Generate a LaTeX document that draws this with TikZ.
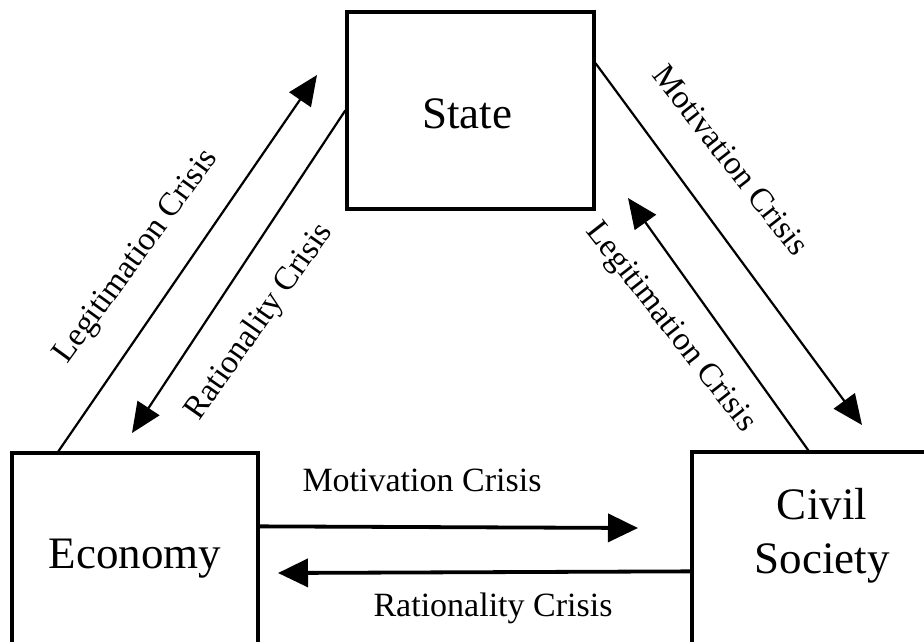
\documentclass[tikz,border=0pt]{standalone}
\usepackage{fontspec}
\setmainfont{Liberation Serif}
\usetikzlibrary{arrows.meta,positioning}
\begin{document}
\begin{tikzpicture}[x=1pt,y=-1pt,
  box/.style={draw,line width=3.3pt,inner sep=0pt},
  big/.style={font=\fontsize{45}{54}\selectfont,inner sep=0pt},
  lbl/.style={font=\fontsize{34}{40}\selectfont,inner sep=0pt},
  dlbl/.style={font=\fontsize{33}{40}\selectfont,inner sep=0pt},
  diag/.style={line width=2.2pt,-{Triangle[length=30pt,width=26pt]}},
  horiz/.style={line width=3.8pt,-{Triangle[length=30pt,width=28pt]}}]
\useasboundingbox (0,0) rectangle (924,641);
\clip (0,0) rectangle (924,641);
% boxes
\node[box,minimum width=247pt,minimum height=197pt] (state) at (470.5,110.5) {};
\node[box,minimum width=246pt,minimum height=204pt] (econ) at (135,555) {};
\node[box,minimum width=260pt,minimum height=220pt] (civil) at (822,562) {};
% box texts
\node[big,anchor=base] (statetxt) at (467,128) {State};
\node[big,anchor=base] (econtxt) at (135,568) {Economy};
\node[big,anchor=base] (civiltxt) at (822,519) {Civil};
\node[big,anchor=base] (soctxt) at (822,573) {Society};
% free ends
\coordinate (tLegL) at (317,75);
\coordinate (tRatL) at (132,433);
\coordinate (tMotR) at (862,425);
\coordinate (tLegR) at (628,198);
\coordinate (tMotH) at (638,528);
\coordinate (tRatH) at (278,573);
% connectors
\draw[diag] ([xshift=48pt]econ.north west) -- (tLegL);
\draw[diag] ([yshift=-100pt]state.north west) -- (tRatL);
\draw[diag] ([yshift=-53pt]state.north east) -- (tMotR);
\draw[diag] ([xshift=118pt]civil.north west) -- (tLegR);
\draw[horiz] ([yshift=-75pt]econ.north east) -- (tMotH);
\draw[horiz] ([yshift=-121pt]civil.north west) -- (tRatH);
% labels
\node[dlbl,rotate=54] (lLegL) at (137,257) {Legitimation Crisis};
\node[dlbl,rotate=55] (lRatL) at (260,322) {Rationality Crisis};
\node[dlbl,rotate=-52] (lMotR) at (731,160) {Motivation Crisis};
\node[dlbl,rotate=-52] (lLegR) at (670,328) {Legitimation Crisis};
\node[lbl,anchor=base] (lMotH) at (422,491) {Motivation Crisis};
\node[lbl,anchor=base] (lRatH) at (493,616) {Rationality Crisis};
\end{tikzpicture}
\end{document}
